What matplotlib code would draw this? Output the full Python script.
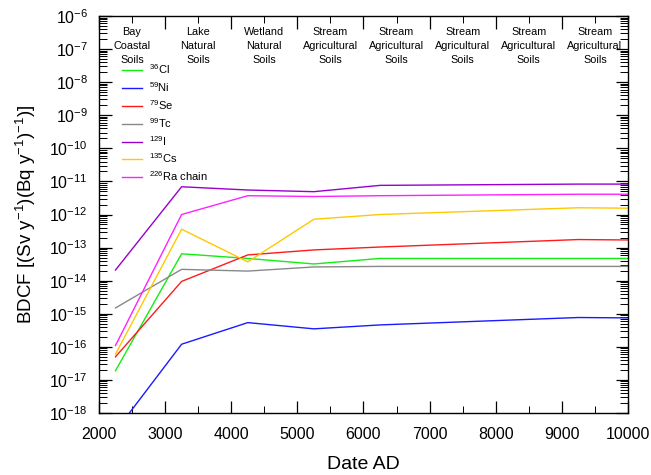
import matplotlib
matplotlib.use("Agg")
import matplotlib.pyplot as plt
from matplotlib.ticker import LogLocator, MultipleLocator, NullFormatter

plt.rcParams['font.family'] = ['Liberation Sans', 'DejaVu Sans']
plt.rcParams['mathtext.fontset'] = 'custom'
plt.rcParams['mathtext.rm'] = 'Liberation Sans'
plt.rcParams['mathtext.it'] = 'Liberation Sans'
plt.rcParams['mathtext.default'] = 'regular'

years = [2250, 3250, 4250, 5250, 6250, 9250, 10000]
cl36 = [1.9e-17, 6.5e-14, 4.7e-14, 3.2e-14, 4.7e-14, 4.7e-14, 4.7e-14]
ni59 = [2.8e-19, 1.2e-16, 5.4e-16, 3.5e-16, 4.6e-16, 7.7e-16, 7.5e-16]
se79 = [5.0e-17, 9.5e-15, 6.0e-14, 8.5e-14, 1.04e-13, 1.75e-13, 1.7e-13]
tc99 = [1.5e-15, 2.2e-14, 1.95e-14, 2.6e-14, 2.7e-14, 2.7e-14, 2.7e-14]
i129 = [2.1e-14, 6.9e-12, 5.5e-12, 4.9e-12, 7.6e-12, 8.3e-12, 8.3e-12]
cs135 = [6.0e-17, 3.6e-13, 3.7e-14, 7.2e-13, 1.0e-12, 1.6e-12, 1.55e-12]
ra226 = [1.1e-16, 1.0e-12, 3.7e-12, 3.5e-12, 3.7e-12, 4.1e-12, 4.1e-12]

series_labels = ['$^{36}$Cl', '$^{59}$Ni', '$^{79}$Se', '$^{99}$Tc',
                 '$^{129}$I', '$^{135}$Cs', '$^{226}$Ra chain']
series_colors = ['#11ee11', '#1a1aff', '#ff1a1a', '#888888',
                 '#9900cc', '#ffc800', '#ff22ff']

soil_positions = [2500, 3500, 4500, 5500, 6500, 7500, 8500, 9500]
soil_labels = ['Bay\nCoastal\nSoils', 'Lake\nNatural\nSoils', 'Wetland\nNatural\nSoils',
               'Stream\nAgricultural\nSoils', 'Stream\nAgricultural\nSoils',
               'Stream\nAgricultural\nSoils', 'Stream\nAgricultural\nSoils',
               'Stream\nAgricultural\nSoils']

fig = plt.figure(figsize=(6.51, 4.75), dpi=100)
ax = fig.add_axes([0.152, 0.1305, 0.8127, 0.8358])

for vals, lab, col in zip([cl36, ni59, se79, tc99, i129, cs135, ra226],
                          series_labels, series_colors):
    ax.plot(years, vals, color=col, lw=1.0, label=lab)

ax.set_yscale('log')
ax.set_xlim(2000, 10000)
ax.set_ylim(1e-18, 1e-6)
ax.xaxis.set_major_locator(MultipleLocator(1000))
ax.xaxis.set_minor_locator(MultipleLocator(500))
ax.yaxis.set_major_locator(LogLocator(base=10, numticks=20))
ax.yaxis.set_minor_locator(LogLocator(base=10, subs=range(2, 10), numticks=20))
ax.yaxis.set_minor_formatter(NullFormatter())
ax.tick_params(which='both', direction='in', top=True, right=True, labelsize=11.5, colors='black')
ax.tick_params(which='major', length=9, width=0.9)
ax.tick_params(which='minor', length=5, width=0.7)
ax.tick_params(axis='y', which='minor', length=6)
ax.tick_params(axis='x', pad=10)
ax.tick_params(axis='y', pad=8)
for s in ax.spines.values():
    s.set_linewidth(1.0)

ax.set_xlabel('Date AD', fontsize=14, labelpad=10)
ax.set_ylabel('BDCF [(Sv y$^{-1}$)(Bq y$^{-1}$)$^{-1}$)]', fontsize=13.5, labelpad=8)

for xp, t in zip(soil_positions, soil_labels):
    ax.text(xp, 0.973, t, transform=ax.get_xaxis_transform(), ha='center', va='top',
            fontsize=7.8, linespacing=1.5)

leg = ax.legend(loc='upper left', bbox_to_anchor=(0.035, 0.894), frameon=False,
                fontsize=8, handlelength=1.8, handletextpad=0.6, labelspacing=0.36,
                borderaxespad=0)

fig.savefig('out.png', dpi=100)
